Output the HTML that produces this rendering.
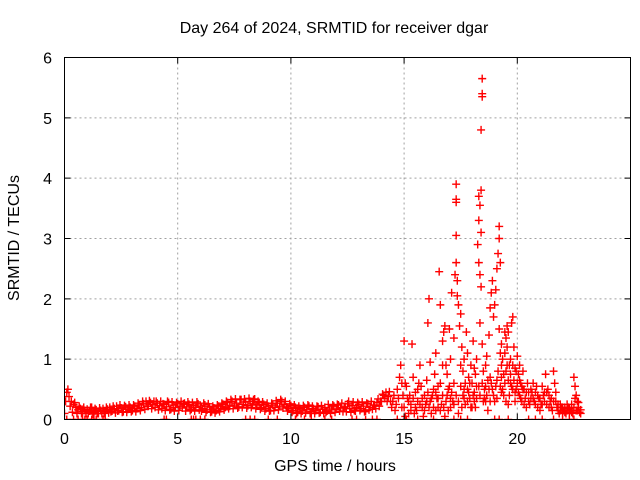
<!DOCTYPE html>
<html><head><meta charset="utf-8"><style>
body{margin:0;background:#fff;}
svg{display:block;font-family:"Liberation Sans",sans-serif;}
</style></head><body>
<svg id="chart" width="640" height="480" viewBox="0 0 640 480">
<defs><clipPath id="pc"><rect x="64.5" y="57.5" width="566" height="362"/></clipPath></defs>
<text x="334" y="33" font-size="16" text-anchor="middle">Day 264 of 2024, SRMTID for receiver dgar</text>
<text x="335" y="471" font-size="16" text-anchor="middle">GPS time / hours</text>
<text x="0" y="0" font-size="16" text-anchor="middle" transform="translate(19,238) rotate(-90)">SRMTID / TECUs</text>
<g id="grid"></g>
<g id="points" clip-path="url(#pc)"></g>
<g id="axes"></g>
<rect x="64.5" y="57.5" width="566" height="362" fill="none" stroke="#000" stroke-width="1"/>
</svg>
<script>
const xTicks=[0,5,10,15,20];
const yTicks=[0,1,2,3,4,5,6];
const baseStart=0, baseStep=0.1;
const baseVals=[0.1,0.45,0.38,0.3,0.25,0.2,0.16,0.18,0.13,0.15,
0.17,0.14,0.2,0.12,0.16,0.1,0.15,0.18,0.13,0.17,
0.2,0.14,0.18,0.22,0.15,0.19,0.13,0.21,0.17,0.2,
0.15,0.22,0.18,0.24,0.2,0.26,0.3,0.22,0.28,0.25,
0.2,0.27,0.23,0.18,0.25,0.21,0.28,0.17,0.24,0.2,
0.26,0.22,0.19,0.27,0.21,0.25,0.17,0.23,0.2,0.26,
0.22,0.18,0.24,0.16,0.21,0.13,0.19,0.15,0.22,0.18,
0.25,0.2,0.28,0.22,0.3,0.24,0.27,0.21,0.33,0.25,
0.29,0.23,0.3,0.26,0.34,0.24,0.28,0.2,0.25,0.18,
0.22,0.15,0.24,0.2,0.27,0.22,0.3,0.25,0.21,0.18,
0.23,0.15,0.2,0.12,0.18,0.14,0.2,0.16,0.22,0.13,
0.18,0.15,0.21,0.12,0.17,0.2,0.14,0.19,0.16,0.22,
0.17,0.24,0.19,0.13,0.21,0.26,0.18,0.23,0.15,0.2,
0.25,0.18,0.22,0.14,0.26,0.2,0.17,0.24,0.28,0.22,
0.3,0.4,0.45,0.38,0.3];
const baseVals2=[0.3,0.5,0.22,0.12,0.28,0.1,0.22,0.1,0.2,0.1,
0.1,0.2,0.09,0.18,0.1,0.19,0.1,0.1,0.2,0.11,
0.13,0.22,0.11,0.14,0.24,0.12,0.23,0.12,0.24,0.13,
0.24,0.13,0.27,0.15,0.3,0.17,0.22,0.31,0.18,0.3,
0.3,0.16,0.3,0.26,0.15,0.3,0.16,0.29,0.14,0.28,
0.15,0.3,0.26,0.14,0.29,0.15,0.28,0.14,0.29,0.16,
0.14,0.27,0.12,0.26,0.12,0.22,0.11,0.24,0.13,0.27,
0.16,0.3,0.18,0.33,0.18,0.34,0.19,0.33,0.2,0.34,
0.19,0.35,0.2,0.33,0.18,0.3,0.17,0.29,0.14,0.27,
0.14,0.27,0.15,0.31,0.16,0.33,0.19,0.3,0.14,0.26,
0.12,0.24,0.1,0.22,0.1,0.23,0.11,0.24,0.1,0.22,
0.1,0.22,0.11,0.23,0.1,0.12,0.25,0.1,0.24,0.12,
0.25,0.14,0.27,0.2,0.13,0.3,0.12,0.29,0.14,0.28,
0.15,0.29,0.13,0.27,0.16,0.3,0.24,0.18,0.34,0.3,
0.42,0.35,0.3,0.46,0.2];
const zeroTimes=[0.1,0.4,0.6,0.8,0.9,1.0,1.2,1.3,1.4,1.7,1.8,4.4,4.5,5.6,5.7,5.8,6.0,6.2,8.0,8.2,8.4,9.0,9.4,10.2,10.6,10.9,11.5,11.8,12.7,12.9,13.3,13.6,13.8,14.7,15.1,15.6,16.3,16.8,17.2,17.5,17.8,19.0,19.2,19.6,20.5,20.8,21.1,21.6,22.0,22.3,22.5];
const scatter=[[14.5,0.3],[14.6,0.15],[14.7,0.5],[14.8,0.7],[14.85,0.9],[14.9,0.6],[14.95,0.4],[15.0,1.3],[15.0,0.2],[15.1,0.55],[15.15,0.35],[15.2,0.1],[15.3,0.25],[15.35,1.25],[15.4,0.7],[15.5,0.45],[15.55,0.15],[15.6,0.3],[15.7,0.9],[15.75,0.55],[15.8,0.2],[15.9,0.4],[16.0,0.65],[16.05,1.6],[16.1,2.0],[16.15,0.3],[16.2,0.1],[16.3,0.5],[16.35,0.75],[16.4,1.1],[16.45,0.35],[16.5,0.2],[16.55,2.45],[16.6,1.9],[16.6,0.6],[16.7,1.3],[16.75,1.45],[16.8,1.55],[16.85,0.9],[16.9,0.4],[16.95,0.15],[17.0,0.55],[17.05,1.0],[17.1,2.1],[17.15,0.3],[17.2,1.35],[17.25,2.4],[17.3,3.9],[17.3,3.65],[17.3,3.6],[17.3,3.05],[17.3,2.6],[17.35,2.3],[17.35,2.05],[17.4,1.9],[17.45,1.55],[17.5,1.75],[17.55,1.2],[17.6,0.8],[17.65,0.5],[17.7,0.25],[17.75,1.45],[17.8,1.1],[17.85,0.7],[17.9,0.35],[17.95,0.9],[18.0,0.6],[18.05,1.3],[18.1,0.45],[18.15,0.2],[18.2,1.0],[18.25,2.9],[18.3,3.7],[18.35,3.55],[18.3,3.3],[18.4,3.8],[18.45,5.65],[18.45,5.4],[18.45,5.35],[18.4,4.8],[18.4,3.1],[18.3,2.6],[18.35,2.4],[18.4,2.2],[18.35,1.6],[18.45,1.25],[18.5,0.8],[18.55,0.5],[18.6,0.3],[18.65,1.05],[18.7,0.65],[18.75,1.4],[18.8,1.85],[18.85,2.1],[18.9,2.3],[18.95,1.7],[19.0,1.9],[19.05,2.15],[19.1,2.5],[19.15,2.75],[19.2,3.2],[19.2,3.0],[19.25,2.6],[19.2,1.5],[19.3,1.25],[19.35,1.0],[19.4,0.75],[19.45,1.1],[19.5,1.35],[19.55,1.55],[19.6,1.45],[19.65,0.9],[19.7,0.6],[19.75,1.6],[19.8,1.7],[19.85,1.2],[19.9,0.85],[19.95,0.5],[20.0,1.05],[20.05,0.75],[20.1,0.4],[20.15,0.6],[20.2,0.3],[20.25,0.8],[20.3,0.5],[20.4,0.2],[20.5,0.45],[20.6,0.35],[20.7,0.6],[20.8,0.25],[20.9,0.4],[21.0,0.15],[21.1,0.55],[21.2,0.3],[21.25,0.75],[21.3,0.45],[21.4,0.2],[21.5,0.35],[21.6,0.8],[21.65,0.6],[21.7,0.3],[21.8,0.15],[21.9,0.25],[22.0,0.1],[22.1,0.2],[22.2,0.15],[22.3,0.1],[22.4,0.25],[22.5,0.7],[22.55,0.55],[22.6,0.4],[22.65,0.3],[22.7,0.2],[22.75,0.12],
[15.05,0.05],[15.25,0.4],[15.45,0.1],[15.65,0.6],[15.85,0.05],[16.25,0.4],[16.65,0.25],[16.8,0.05],[17.05,0.35],[17.4,0.1],[17.6,0.4],[17.9,0.6],[18.0,0.2],[18.1,0.85],[18.2,0.55],[18.5,0.3],[18.7,0.15],[18.9,0.5],[19.0,0.3],[19.1,0.65],[19.3,0.45],[19.5,0.8],[19.6,0.25],[19.8,0.5],[19.9,0.3],[20.0,0.6],[20.1,0.9],[20.2,0.55],[20.35,0.35],[20.45,0.6],[20.55,0.25],[20.65,0.45],[20.75,0.3],[20.85,0.55],[20.95,0.35],[21.05,0.25],[21.15,0.4],[21.35,0.5],[21.45,0.3],[21.55,0.15],[21.75,0.2],[21.85,0.1],[21.95,0.2],[22.05,0.15],[22.15,0.1],[22.25,0.2],[22.35,0.15],[22.45,0.1],[22.6,0.15],[22.8,0.1],[16.0,0.3],[16.4,0.15],[17.2,0.6],[17.5,0.9],[17.8,0.5],[18.6,0.9],[18.8,0.7],[19.4,0.4],[19.7,1.0],[16.9,0.75],[17.0,1.5],[15.9,0.15],[16.15,0.95],[16.5,0.55],
[14.55,0.4],[14.65,0.25],[14.75,0.35],[14.9,0.2],[15.05,0.6],[15.2,0.3],[15.3,0.15],[15.4,0.35],[15.5,0.2],[15.6,0.5],[15.7,0.25],[15.8,0.35],[15.95,0.25],[16.05,0.45],[16.1,0.2],[16.2,0.35],[16.3,0.2],[16.4,0.45],[16.5,0.35],[16.6,0.15],[16.7,0.4],[16.75,0.2],[16.85,0.3],[16.95,0.5],[17.05,0.2],[17.1,0.45],[17.2,0.25],[17.3,0.4],[17.4,0.3],[17.5,0.55],[17.55,0.2],[17.65,0.35],[17.7,0.6],[17.8,0.3],[17.85,0.45],[17.95,0.2],[18.05,0.4],[18.1,0.3],[18.2,0.35],[18.3,0.55],[18.35,0.4],[18.45,0.6],[18.55,0.35],[18.6,0.55],[18.65,0.4],[18.75,0.5],[18.8,0.3],[18.85,0.6],[18.95,0.4],[19.05,0.55],[19.1,0.35],[19.15,0.8],[19.25,0.55],[19.3,0.7],[19.35,0.5],[19.45,0.6],[19.5,0.3],[19.55,0.9],[19.6,0.65],[19.65,0.4],[19.7,0.75],[19.75,0.55],[19.8,0.9],[19.85,0.65],[19.9,0.45],[19.95,0.8],[20.05,0.45],[20.1,0.65],[20.15,0.35],[20.25,0.5],[20.3,0.25],[20.4,0.45],[20.5,0.3],[20.6,0.5],[20.7,0.35],[20.8,0.45],[20.9,0.2],[21.0,0.35],[21.1,0.25],[21.2,0.45],[21.3,0.25],[21.4,0.4],[21.5,0.2],[21.6,0.3],[21.7,0.45],[21.8,0.25],[21.9,0.15],[22.0,0.2],[22.1,0.12],[22.2,0.25],[22.3,0.18],[22.4,0.12],[22.5,0.2],[22.55,0.35],[22.65,0.15],[22.7,0.28],[22.8,0.16],[19.3,0.9],[19.45,1.45],[19.55,1.2],[19.25,1.1],[18.15,0.75],[17.65,1.0],[16.7,0.9]];

const NS='http://www.w3.org/2000/svg';
const X0=64.5,X1=630.5,Y0=419.5,Y1=57.5,XMAX=25,YMAX=6;
function xs(t){return X0+(X1-X0)*t/XMAX;}
function ys(v){return Y0-(Y0-Y1)*v/YMAX;}
const grid=document.getElementById('grid'),axes=document.getElementById('axes'),pts=document.getElementById('points');
function mk(tag,attrs,parent){const e=document.createElementNS(NS,tag);for(const k in attrs)e.setAttribute(k,attrs[k]);parent.appendChild(e);return e;}
xTicks.forEach(t=>{
  const x=xs(t);
  if(t>0){const g=mk('line',{x1:x,x2:x,y1:Y1,y2:Y0,stroke:'#a0a0a0','stroke-dasharray':'2,3'},grid);
  
  }
  const tk=mk('path',{d:`M${x},${Y0}v-6M${x},${Y1}v6`,stroke:'#000'},axes);
  
  
  const lb=mk('text',{x:x,y:444,'font-size':16,'text-anchor':'middle'},axes);
  lb.textContent=t;
  
  
});
yTicks.forEach(v=>{
  const y=ys(v);
  if(v>0&&v<YMAX){const g=mk('line',{x1:X0,x2:X1,y1:y,y2:y,stroke:'#a0a0a0','stroke-dasharray':'2,3'},grid);
  
  }
  const tk=mk('path',{d:`M${X0},${y}h6M${X1},${y}h-6`,stroke:'#000'},axes);
  
  
  const lb=mk('text',{x:52,y:y+6,'font-size':16,'text-anchor':'end'},axes);
  lb.textContent=v;
  
  
});
function plus(t,v){
  const x=xs(t),y=ys(v);
  const p=mk('path',{d:`M${x-4},${y}h8M${x},${y-4}v8`,stroke:'#ff0000','stroke-width':1.4},pts);
  
  
}
baseVals.forEach((v,i)=>plus(baseStart+i*baseStep,v));
baseVals2.forEach((v,i)=>plus(baseStart+0.05+i*baseStep,v));
zeroTimes.forEach(t=>plus(t,0));
scatter.forEach(d=>plus(d[0],d[1]));
</script>
</body></html>
